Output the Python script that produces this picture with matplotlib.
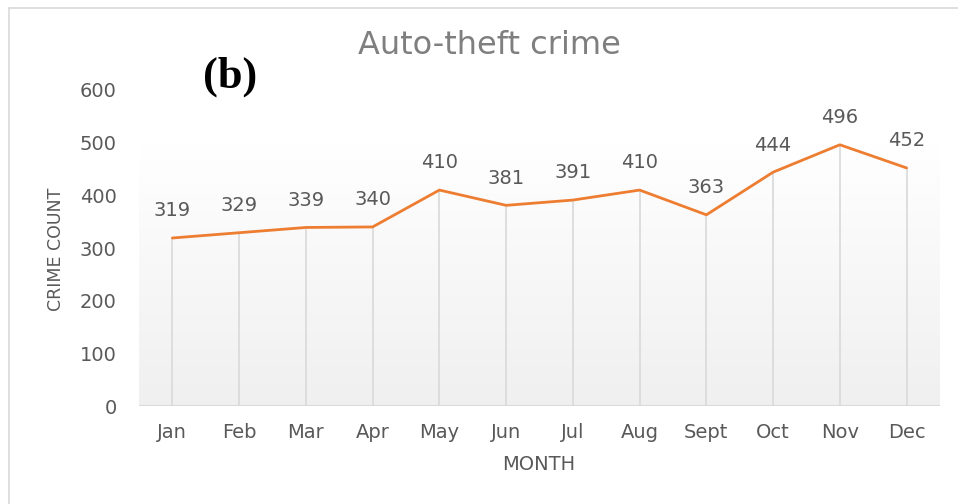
import matplotlib
matplotlib.use("Agg")
import matplotlib.pyplot as plt
import numpy as np
from matplotlib.lines import Line2D

months = ["Jan", "Feb", "Mar", "Apr", "May", "Jun", "Jul", "Aug", "Sept", "Oct", "Nov", "Dec"]
counts = [319, 329, 339, 340, 410, 381, 391, 410, 363, 444, 496, 452]
yticks = [0, 100, 200, 300, 400, 500, 600]

W, H = 958, 504
fig = plt.figure(figsize=(W / 100, H / 100), dpi=100)
fig.patch.set_facecolor("white")

L, R, T, B = 139, 940, 90, 406
ax = fig.add_axes([L / W, 1 - B / H, (R - L) / W, (B - T) / H])
ax.set_facecolor("white")

x = np.arange(len(months))

# gradient background
grad = np.linspace(0.94, 1.0, 256).reshape(-1, 1)
grad_rgb = np.dstack([grad, grad, grad])
ax.imshow(grad_rgb, extent=[-0.5, len(months) - 0.5, 0, 500], origin="lower",
          aspect="auto", zorder=0, interpolation="bilinear")
ax.set_xlim(-0.5, len(months) - 0.5)
ax.set_ylim(0, 600)

# drop lines
ax.vlines(x, 0, counts, colors="#d9d9d9", linewidth=1.2, zorder=1)
ax.axhline(0, color="#d9d9d9", linewidth=1.5, zorder=1)

ax.plot(x, counts, color="#ED7D31", linewidth=2.0, zorder=3, solid_capstyle="round")

font = "DejaVu Sans"
fs = 14
for xi, v in zip(x, counts):
    ax.annotate(str(v), (xi, v), xytext=(0, 19.5), textcoords="offset points",
                ha="center", va="center", fontsize=fs, color="#595959", family=font)

for s in ax.spines.values():
    s.set_visible(False)
ax.set_xticks(x)
ax.set_xticklabels(months, fontsize=fs, color="#595959", family=font)
ax.set_yticks(yticks)
ax.set_yticklabels([str(v) for v in yticks], fontsize=fs, color="#595959", family=font)
ax.tick_params(axis="both", length=0)
ax.tick_params(axis="x", pad=12)
ax.tick_params(axis="y", pad=16)

fig.text(539 / W, 1 - 465 / H, "MONTH", ha="center", va="center", fontsize=14,
         color="#595959", family=font)
fig.text(56 / W, 1 - 249 / H, "CRIME COUNT", ha="center", va="center", fontsize=12.5,
         color="#595959", family=font, rotation=90)
fig.text(489 / W, 1 - 46 / H, "Auto-theft crime", ha="center", va="center", fontsize=23,
         color="#7f7f7f", family=font)
fig.text(230 / W, 1 - 77 / H, "(b)", ha="center", va="center", fontsize=32,
         color="black", family="Liberation Serif", weight="bold")

# outer frame (top and left)
fig.add_artist(Line2D([9 / W, 1], [1 - 8 / H, 1 - 8 / H], transform=fig.transFigure,
                      color="#d9d9d9", linewidth=1.2))
fig.add_artist(Line2D([9 / W, 9 / W], [0, 1 - 8 / H], transform=fig.transFigure,
                      color="#d9d9d9", linewidth=1.2))

fig.savefig("out.png", dpi=100)
